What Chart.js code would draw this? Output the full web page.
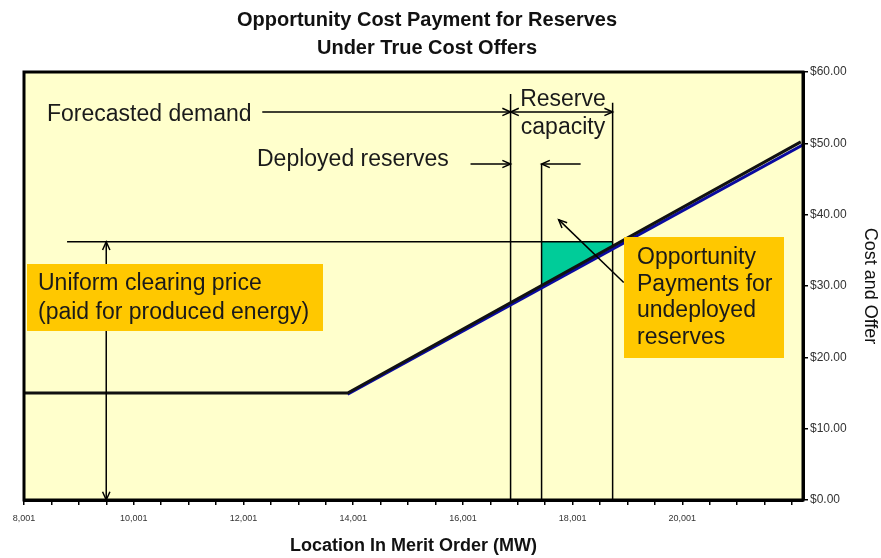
<!DOCTYPE html>
<html>
<head>
<meta charset="utf-8">
<script src="https://cdn.jsdelivr.net/npm/chart.js@4.4.0/dist/chart.umd.min.js"></script>
<style>
  body { margin: 0; background: #fff; }
  #wrap { width: 881px; height: 558px; position: relative; }
</style>
</head>
<body>
<div id="wrap"><canvas id="myChart"></canvas></div>
<script>
// Offer curve (location in merit order MW -> $)
var offerMW = [8001, 13900, 22160];
var offerPrice = [15, 15, 50.2];
// True cost curve (blue, under the offer curve)
var costMW = [13900, 22200];
var costPrice = [14.85, 49.8];

// Key quantities
var forecastDemand = 16870;
var deployedReserves = 17435;
var reserveCapacity = 18730;
var clearingPrice = 36.2;
var clearingStartMW = 8786;

// top ends of the vertical marker lines ($)
var forecastTop = 56.9;
var deployedTop = 47.1;
var reserveTop = 55.7;

// tick labels
var xTickLabels = [8001, 10001, 12001, 14001, 16001, 18001, 20001];
var xMinorStep = 500;
var yTickLabels = [0, 10, 20, 30, 40, 50, 60];

Chart.defaults.font.family = '"Liberation Sans", Arial, sans-serif';

function pts(xs, ys) {
  return xs.map(function (x, i) { return { x: x, y: ys[i] }; });
}

// valeur de l'offre a une position donnee
function offerAt(mw) {
  for (var i = 0; i < offerMW.length - 1; i++) {
    if (mw >= offerMW[i] && mw <= offerMW[i + 1]) {
      var t = (mw - offerMW[i]) / (offerMW[i + 1] - offerMW[i]);
      return offerPrice[i] + t * (offerPrice[i + 1] - offerPrice[i]);
    }
  }
  return offerPrice[offerPrice.length - 1];
}

function arrowHead(ctx, x1, y1, x2, y2) {
  var a = Math.atan2(y2 - y1, x2 - x1), L = 9, w = 0.42;
  ctx.beginPath();
  ctx.moveTo(x2 - L * Math.cos(a - w), y2 - L * Math.sin(a - w));
  ctx.lineTo(x2, y2);
  ctx.lineTo(x2 - L * Math.cos(a + w), y2 - L * Math.sin(a + w));
  ctx.stroke();
}

function arrow(chart, x1, y1, x2, y2, both) {
  var xs = chart.scales.x, ys = chart.scales.y, ctx = chart.ctx;
  var px1 = xs.getPixelForValue(x1), py1 = ys.getPixelForValue(y1);
  var px2 = xs.getPixelForValue(x2), py2 = ys.getPixelForValue(y2);
  ctx.beginPath();
  ctx.moveTo(px1, py1);
  ctx.lineTo(px2, py2);
  ctx.stroke();
  arrowHead(ctx, px1, py1, px2, py2);
  if (both) arrowHead(ctx, px2, py2, px1, py1);
}

function textLines(ctx, lines, x, y, lh, align) {
  ctx.textAlign = align || 'left';
  ctx.textBaseline = 'middle';
  for (var i = 0; i < lines.length; i++) ctx.fillText(lines[i], x, y + i * lh);
}

var decor = {
  id: 'decor',
  beforeDraw: function (chart) {
    var a = chart.chartArea, ctx = chart.ctx;
    ctx.save();
    ctx.fillStyle = '#FFFFCC';
    ctx.fillRect(a.left, a.top, a.right - a.left, a.bottom - a.top);
    ctx.restore();
  },
  beforeDatasetsDraw: function (chart) {
    // triangle vert : paiement d'opportunite
    var xs = chart.scales.x, ys = chart.scales.y, ctx = chart.ctx;
    var slope = (offerPrice[2] - offerPrice[1]) / (offerMW[2] - offerMW[1]);
    var xEnd = Math.min(offerMW[1] + (clearingPrice - offerPrice[1]) / slope, reserveCapacity);
    ctx.save();
    ctx.fillStyle = '#00CC99';
    ctx.beginPath();
    ctx.moveTo(xs.getPixelForValue(deployedReserves), ys.getPixelForValue(clearingPrice));
    ctx.lineTo(xs.getPixelForValue(xEnd), ys.getPixelForValue(clearingPrice));
    ctx.lineTo(xs.getPixelForValue(xEnd), ys.getPixelForValue(offerAt(xEnd)));
    ctx.lineTo(xs.getPixelForValue(deployedReserves), ys.getPixelForValue(offerAt(deployedReserves)));
    ctx.closePath();
    ctx.fill();
    ctx.restore();
  },
  afterDatasetsDraw: function (chart) {
    var ctx = chart.ctx, a = chart.chartArea;
    ctx.save();
    ctx.strokeStyle = '#000';
    ctx.lineWidth = 1.5;
    // arrows
    arrow(chart, 12344, 54.4, forecastDemand, 54.4, false);
    arrow(chart, forecastDemand, 54.4, reserveCapacity, 54.4, true);
    arrow(chart, 16140, 47.1, forecastDemand, 47.1, false);
    arrow(chart, 18147, 47.1, deployedReserves, 47.1, false);
    arrow(chart, 9500, clearingPrice, 9500, 0, true);
    arrow(chart, 18932, 30.5, 17746, 39.3, false);

    // boxes
    ctx.fillStyle = '#FFC800';
    ctx.fillRect(27, 264, 296, 67);
    ctx.fillRect(624, 237, 160, 121);

    ctx.fillStyle = '#1a1a1a';
    ctx.font = '23px "Liberation Sans", Arial, sans-serif';
    textLines(ctx, ['Forecasted demand'], 47, 115, 28);
    textLines(ctx, ['Reserve', 'capacity'], 563, 100, 28, 'center');
    textLines(ctx, ['Deployed reserves'], 257, 160, 28);
    textLines(ctx, ['Uniform clearing price', '(paid for produced energy)'], 38, 284, 29);
    textLines(ctx, ['Opportunity', 'Payments for', 'undeployed', 'reserves'], 637, 258, 26.5);

    // frame
    ctx.lineWidth = 3;
    ctx.strokeRect(a.left, a.top, a.right - a.left, a.bottom - a.top);
    ctx.restore();
  },
  afterDraw: function (chart) {
    var ctx = chart.ctx;
    ctx.save();
    ctx.fillStyle = '#111';
    ctx.font = 'bold 20px "Liberation Sans", Arial, sans-serif';
    textLines(ctx, ['Opportunity Cost Payment for Reserves', 'Under True Cost Offers'], 427, 20, 28, 'center');
    ctx.restore();
  }
};

var lineStyle = { pointRadius: 0, fill: false, tension: 0 };

var ctx = document.getElementById('myChart');
new Chart(ctx, {
  type: 'line',
  data: {
    datasets: [
      Object.assign({ label: 'Offer', data: pts(offerMW, offerPrice), borderColor: '#111', borderWidth: 3, order: 1 }, lineStyle),
      Object.assign({ label: 'Cost', data: pts(costMW, costPrice), borderColor: '#0A0AA0', borderWidth: 3, order: 2 }, lineStyle),
      Object.assign({ label: 'Forecasted demand', data: pts([forecastDemand, forecastDemand], [0, forecastTop]), borderColor: '#000', borderWidth: 1.5, order: 3 }, lineStyle),
      Object.assign({ label: 'Deployed reserves', data: pts([deployedReserves, deployedReserves], [0, deployedTop]), borderColor: '#000', borderWidth: 1.5, order: 3 }, lineStyle),
      Object.assign({ label: 'Reserve capacity', data: pts([reserveCapacity, reserveCapacity], [0, reserveTop]), borderColor: '#000', borderWidth: 1.5, order: 3 }, lineStyle),
      Object.assign({ label: 'Clearing price', data: pts([clearingStartMW, reserveCapacity], [clearingPrice, clearingPrice]), borderColor: '#000', borderWidth: 1.5, order: 3 }, lineStyle)
    ]
  },
  options: {
    responsive: true,
    maintainAspectRatio: false,
    animation: false,
    layout: { padding: { top: 72, left: 24, right: 0, bottom: 0 } },
    plugins: {
      legend: { display: false },
      title: { display: false },
      tooltip: { enabled: false }
    },
    scales: {
      x: {
        type: 'linear',
        min: 8001,
        max: 22200,
        afterBuildTicks: function (scale) {
          var t = [];
          for (var v = xTickLabels[0]; v <= scale.max; v += xMinorStep) t.push({ value: v });
          scale.ticks = t;
        },
        afterFit: function (scale) { scale.height = 58; },
        ticks: {
          autoSkip: false,
          maxRotation: 0,
          padding: 8,
          color: '#333',
          font: { size: 9 },
          callback: function (value) {
            return xTickLabels.indexOf(value) >= 0 ? value.toLocaleString('en-US') : '';
          }
        },
        grid: { drawOnChartArea: false, drawTicks: true, tickLength: 5, color: '#000', lineWidth: 1.5 },
        border: { display: true, color: '#000', width: 3 },
        title: {
          display: true,
          text: 'Location In Merit Order (MW)',
          color: '#111',
          font: { size: 18, weight: 'bold' },
          padding: { top: 6, bottom: 1 }
        }
      },
      y: {
        type: 'linear',
        position: 'right',
        min: 0,
        max: 60,
        afterBuildTicks: function (scale) {
          scale.ticks = yTickLabels.map(function (v) { return { value: v }; });
        },
        afterFit: function (scale) { scale.width = 78; },
        ticks: {
          padding: 2,
          color: '#333',
          font: { size: 12 },
          callback: function (value) { return '$' + value.toFixed(2); }
        },
        grid: { drawOnChartArea: false, drawTicks: true, tickLength: 5, color: '#000', lineWidth: 1.5 },
        border: { display: true, color: '#000', width: 3 },
        title: {
          display: true,
          text: 'Cost and Offer',
          color: '#111',
          font: { size: 18 },
          padding: { top: 0, bottom: 0 }
        }
      }
    }
  },
  plugins: [decor]
});
</script>
</body>
</html>
